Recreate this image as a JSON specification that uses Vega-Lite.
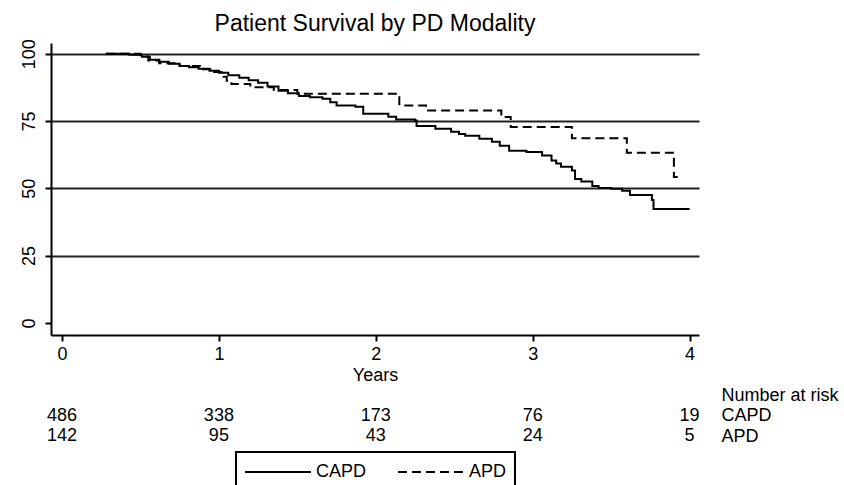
{
  "$schema": "https://vega.github.io/schema/vega-lite/v6.json",
  "background": "white",
  "padding": {"left": 20, "top": 12, "right": 5, "bottom": 0},
  "config": {
    "font": "Liberation Sans",
    "view": {"stroke": null},
    "concat": {"spacing": 1},
    "axis": {"labelColor": "black", "titleColor": "black", "labelFontSize": 18, "titleFontSize": 18, "titleFontWeight": "normal"}
  },
  "datasets": {
    "km": [
      {"group": "CAPD", "year": 0.28, "survival": 100},
      {"group": "CAPD", "year": 0.43, "survival": 99.6},
      {"group": "CAPD", "year": 0.51, "survival": 98.9},
      {"group": "CAPD", "year": 0.56, "survival": 97.8},
      {"group": "CAPD", "year": 0.62, "survival": 97.0},
      {"group": "CAPD", "year": 0.68, "survival": 96.3},
      {"group": "CAPD", "year": 0.75, "survival": 95.5},
      {"group": "CAPD", "year": 0.81, "survival": 95.0},
      {"group": "CAPD", "year": 0.87, "survival": 94.4},
      {"group": "CAPD", "year": 0.94, "survival": 93.7},
      {"group": "CAPD", "year": 1.0, "survival": 92.9},
      {"group": "CAPD", "year": 1.06, "survival": 92.0},
      {"group": "CAPD", "year": 1.13, "survival": 91.1},
      {"group": "CAPD", "year": 1.19, "survival": 90.2},
      {"group": "CAPD", "year": 1.25, "survival": 89.2},
      {"group": "CAPD", "year": 1.31, "survival": 87.8},
      {"group": "CAPD", "year": 1.38, "survival": 86.3},
      {"group": "CAPD", "year": 1.44, "survival": 85.3},
      {"group": "CAPD", "year": 1.51, "survival": 84.3},
      {"group": "CAPD", "year": 1.58, "survival": 83.8},
      {"group": "CAPD", "year": 1.66, "survival": 83.3},
      {"group": "CAPD", "year": 1.71, "survival": 82.0},
      {"group": "CAPD", "year": 1.75, "survival": 80.8},
      {"group": "CAPD", "year": 1.87, "survival": 80.3},
      {"group": "CAPD", "year": 1.92, "survival": 77.7},
      {"group": "CAPD", "year": 2.08, "survival": 76.6},
      {"group": "CAPD", "year": 2.13, "survival": 75.6},
      {"group": "CAPD", "year": 2.25, "survival": 75.2},
      {"group": "CAPD", "year": 2.26, "survival": 73.2},
      {"group": "CAPD", "year": 2.38, "survival": 72.1},
      {"group": "CAPD", "year": 2.48, "survival": 71.0},
      {"group": "CAPD", "year": 2.53, "survival": 70.2},
      {"group": "CAPD", "year": 2.57, "survival": 69.5},
      {"group": "CAPD", "year": 2.66, "survival": 68.4},
      {"group": "CAPD", "year": 2.74, "survival": 67.3},
      {"group": "CAPD", "year": 2.79, "survival": 65.8},
      {"group": "CAPD", "year": 2.85, "survival": 64.0},
      {"group": "CAPD", "year": 2.96, "survival": 63.5},
      {"group": "CAPD", "year": 3.06, "survival": 62.2},
      {"group": "CAPD", "year": 3.12, "survival": 60.3},
      {"group": "CAPD", "year": 3.15, "survival": 59.2},
      {"group": "CAPD", "year": 3.18, "survival": 58.0},
      {"group": "CAPD", "year": 3.25, "survival": 56.6},
      {"group": "CAPD", "year": 3.27, "survival": 53.5},
      {"group": "CAPD", "year": 3.31, "survival": 52.5},
      {"group": "CAPD", "year": 3.38, "survival": 50.9},
      {"group": "CAPD", "year": 3.42, "survival": 50.1},
      {"group": "CAPD", "year": 3.5, "survival": 49.8},
      {"group": "CAPD", "year": 3.57, "survival": 49.1},
      {"group": "CAPD", "year": 3.62, "survival": 47.5},
      {"group": "CAPD", "year": 3.76, "survival": 45.7},
      {"group": "CAPD", "year": 3.77, "survival": 42.3},
      {"group": "CAPD", "year": 4.0, "survival": 42.3},
      {"group": "APD", "year": 0.28, "survival": 100},
      {"group": "APD", "year": 0.5, "survival": 99.0},
      {"group": "APD", "year": 0.55, "survival": 97.5},
      {"group": "APD", "year": 0.62, "survival": 96.5},
      {"group": "APD", "year": 0.75, "survival": 95.5},
      {"group": "APD", "year": 0.88, "survival": 94.2},
      {"group": "APD", "year": 0.97, "survival": 93.2},
      {"group": "APD", "year": 1.03, "survival": 91.5},
      {"group": "APD", "year": 1.05, "survival": 90.0},
      {"group": "APD", "year": 1.08, "survival": 88.8},
      {"group": "APD", "year": 1.2, "survival": 87.6},
      {"group": "APD", "year": 1.35, "survival": 86.5},
      {"group": "APD", "year": 1.5, "survival": 85.1},
      {"group": "APD", "year": 2.15, "survival": 80.8},
      {"group": "APD", "year": 2.32, "survival": 78.9},
      {"group": "APD", "year": 2.8, "survival": 76.5},
      {"group": "APD", "year": 2.86, "survival": 72.8},
      {"group": "APD", "year": 3.25, "survival": 68.6},
      {"group": "APD", "year": 3.6, "survival": 63.2},
      {"group": "APD", "year": 3.9, "survival": 54.2},
      {"group": "APD", "year": 3.95, "survival": 54.2}
    ],
    "risk": [
      {"group": "CAPD", "year": 0, "n": 486},
      {"group": "CAPD", "year": 1, "n": 338},
      {"group": "CAPD", "year": 2, "n": 173},
      {"group": "CAPD", "year": 3, "n": 76},
      {"group": "CAPD", "year": 4, "n": 19},
      {"group": "APD", "year": 0, "n": 142},
      {"group": "APD", "year": 1, "n": 95},
      {"group": "APD", "year": 2, "n": 43},
      {"group": "APD", "year": 3, "n": 24},
      {"group": "APD", "year": 4, "n": 5}
    ]
  },
  "vconcat": [
    {
      "title": {"text": "Patient Survival by PD Modality", "fontSize": 23, "fontWeight": "normal", "anchor": "middle", "offset": 3, "color": "black"},
      "width": 648,
      "height": 292,
      "data": {"name": "km"},
      "mark": {"type": "line", "interpolate": "step-after", "color": "black", "strokeWidth": 2},
      "encoding": {
        "x": {
          "field": "year", "type": "quantitative",
          "scale": {"domain": [-0.07, 4.06], "nice": false, "zero": false},
          "axis": {"values": [0, 1, 2, 3, 4], "title": "Years", "grid": false, "domainColor": "black", "domainWidth": 2, "tickColor": "black", "tickWidth": 2, "tickSize": 6, "labelPadding": 4, "titlePadding": 3, "labelFlush": false}
        },
        "y": {
          "field": "survival", "type": "quantitative",
          "scale": {"domain": [-4.5, 104], "nice": false, "zero": false},
          "axis": {"values": [0, 25, 50, 75, 100], "title": null, "grid": true, "gridColor": "#222", "gridWidth": 2,
            "gridOpacity": {"condition": {"test": "datum.value === 0", "value": 0}, "value": 1},
            "domainColor": "black", "domainWidth": 2, "tickColor": "black", "tickWidth": 2, "tickSize": 6,
            "labelAngle": -90, "labelAlign": "center", "labelBaseline": "bottom", "labelPadding": 7, "labelFlush": false}
        },
        "strokeDash": {
          "field": "group", "type": "nominal",
          "scale": {"domain": ["CAPD", "APD"], "range": [[1, 0], [9, 5]]},
          "legend": {"title": null, "orient": "none", "legendX": 185, "legendY": 409, "direction": "horizontal", "symbolType": "M-3,0H3", "symbolSize": 484, "symbolStrokeWidth": 2, "symbolStrokeColor": "black", "symbolOffset": 22, "labelFontSize": 18, "labelColor": "black", "labelOffset": 26, "columnPadding": 27, "padding": 8, "strokeColor": "black",
            "encode": {"legend": {"update": {"strokeWidth": {"value": 2}}}}}
        }
      }
    },
    {
      "width": 648,
      "height": 61.5,
      "data": {"name": "risk"},
      "mark": {"type": "text", "fontSize": 18, "color": "black"},
      "encoding": {
        "x": {"field": "year", "type": "quantitative", "scale": {"domain": [-0.07, 4.06], "nice": false, "zero": false}, "axis": null},
        "y": {"field": "group", "type": "nominal", "scale": {"domain": ["Number at risk", "CAPD", "APD"]},
          "axis": {"orient": "right", "title": null, "domain": false, "ticks": false, "grid": false, "labelPadding": 22, "labelAlign": "left", "labelFontSize": 18}},
        "text": {"field": "n", "type": "quantitative"}
      }
    }
  ],
  "resolve": {"legend": {"strokeDash": "shared"}}
}
